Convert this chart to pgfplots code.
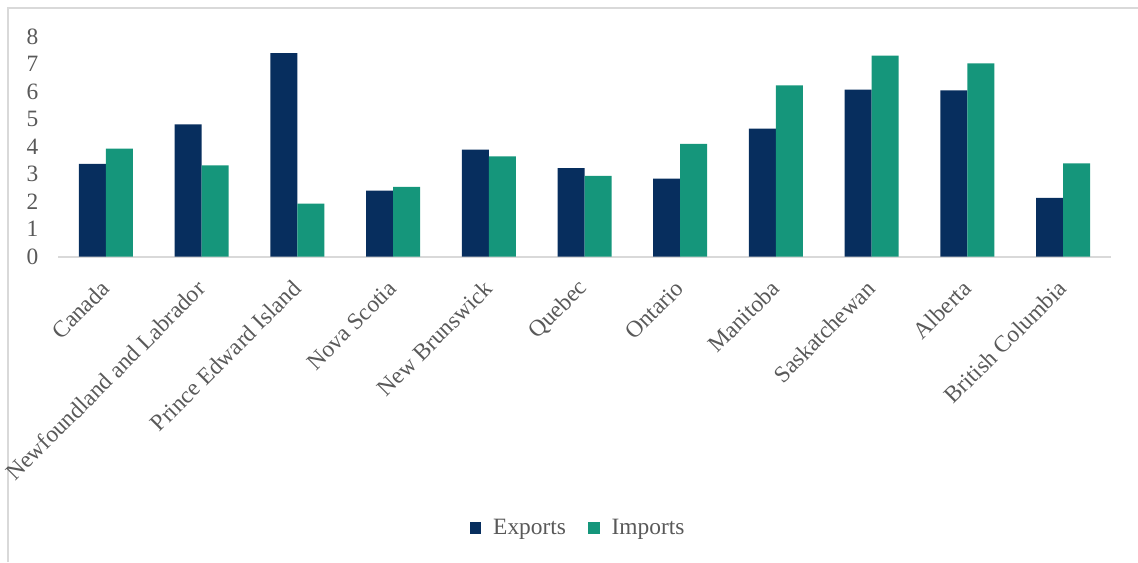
\documentclass[border=0pt]{standalone}
\usepackage{fontspec}
\setmainfont{Liberation Serif}
\usepackage{pgfplots}
\pgfplotsset{compat=1.18}
\definecolor{expcol}{RGB}{7,46,94}
\definecolor{impcol}{RGB}{21,150,123}
\definecolor{txtgray}{RGB}{89,89,89}
\definecolor{linegray}{RGB}{217,217,217}

\begin{document}
\begin{tikzpicture}
% 1 px of the reference = 0.5pt
\useasboundingbox (0,0) rectangle (569pt,281pt);
% chart frame (only left and top edges visible)
\draw[linegray, line width=0.8pt] (4pt,0pt) -- (4pt,277pt) -- (569pt,277pt);

\begin{axis}[
  at={(29pt,152.65pt)},
  anchor=south west,
  scale only axis,
  width=526.5pt,
  height=110pt,
  ybar=0pt,
  bar width=13.5pt,
  xmin=-0.5, xmax=10.5,
  ymin=0, ymax=8,
  ytick={0,1,...,8},
  xtick=data,
  xticklabels={Canada,Newfoundland and Labrador,Prince Edward Island,Nova Scotia,New Brunswick,Quebec,Ontario,Manitoba,Saskatchewan,Alberta,British Columbia},
  axis x line*=bottom,
  axis y line*=left,
  x axis line style={-, draw=linegray, line width=1pt},
  y axis line style={draw=none},
  major tick length=0pt,
  tick style={draw=none},
  /pgf/number format/assume math mode=true,
  ticklabel style={font=\fontsize{11.7}{14}\selectfont, text=txtgray},
  y tick label style={xshift=-6.3pt},
  % shifts act in the rotated frame
  x tick label style={rotate=45, anchor=east, xshift=-6.6pt, yshift=-9.7pt},
  legend style={
    at={(0.4948,-1.233)}, anchor=center,
    draw=none, fill=none,
    legend columns=2,
    font=\fontsize{11.7}{14}\selectfont, text=txtgray,
    /tikz/every odd column/.append style={column sep=4pt},
    /tikz/every even column/.append style={column sep=9pt},
  },
  legend image code/.code={\fill[#1] (0pt,-2.9pt) rectangle (5.8pt,2.9pt);},
  legend cell align=left,
]
\addplot[fill=expcol, draw=none] coordinates {
  (0,3.38) (1,4.81) (2,7.40) (3,2.40) (4,3.89) (5,3.22)
  (6,2.84) (7,4.66) (8,6.08) (9,6.05) (10,2.14)
};
\addplot[fill=impcol, draw=none] coordinates {
  (0,3.93) (1,3.32) (2,1.93) (3,2.54) (4,3.65) (5,2.94)
  (6,4.10) (7,6.23) (8,7.31) (9,7.03) (10,3.39)
};
\legend{Exports,Imports}
\end{axis}
\end{tikzpicture}
\end{document}
